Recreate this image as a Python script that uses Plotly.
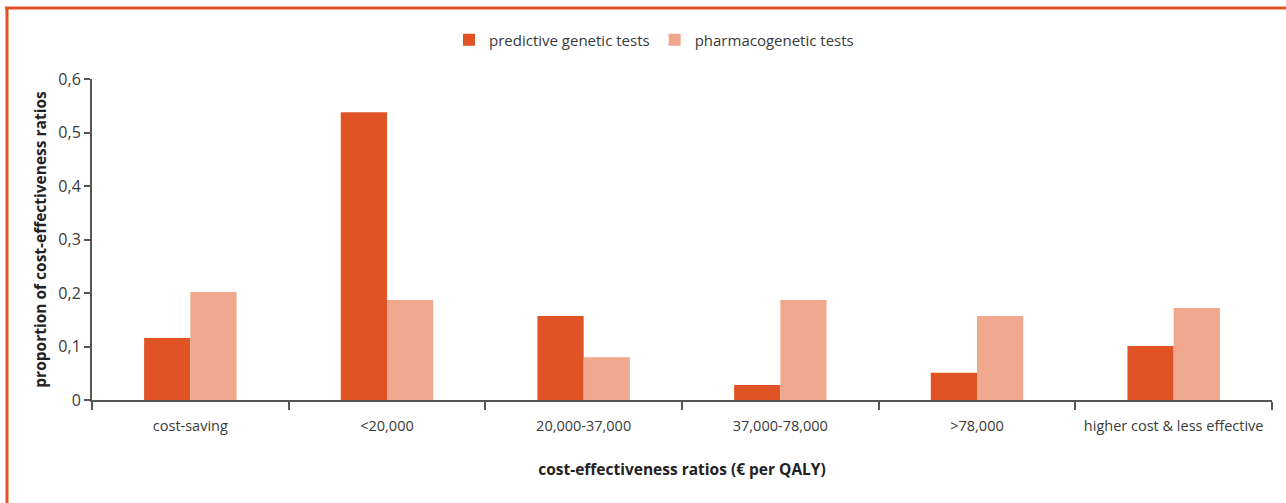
import plotly.graph_objects as go

categories = ["cost-saving", "<20,000", "20,000-37,000", "37,000-78,000", ">78,000", "higher cost & less effective"]
predictive = [0.116, 0.538, 0.157, 0.028, 0.051, 0.101]
pharmaco = [0.202, 0.187, 0.080, 0.187, 0.157, 0.172]
series_names = ["predictive genetic tests", "pharmacogenetic tests"]
y_ticks = [0, 0.1, 0.2, 0.3, 0.4, 0.5, 0.6]

W, H = 1286, 503
ML, MR, MT, MB = 92, 14, 79, 103
FONT = "Open Sans"
TXT = "#3a3a3a"
AX = "#555555"

fig = go.Figure()
fig.add_bar(x=categories, y=predictive, name=series_names[0], marker=dict(color="#E05325", line=dict(width=0)))
fig.add_bar(x=categories, y=pharmaco, name=series_names[1], marker=dict(color="#EFA78E", line=dict(width=0)))

pw = W - ML - MR
ph = H - MT - MB
def px(x):
    return (x - ML) / pw
def py(y):
    return (H - MB - y) / ph

border = "#E05325"
fig.add_shape(type="line", xref="paper", yref="paper", x0=px(5), x1=px(W + 5), y0=py(8), y1=py(8),
              line=dict(color=border, width=3))
fig.add_shape(type="line", xref="paper", yref="paper", x0=px(7), x1=px(7), y0=py(7), y1=py(H + 5),
              line=dict(color=border, width=3))

fig.update_layout(
    width=W, height=H,
    margin=dict(l=ML, r=MR, t=MT, b=MB),
    paper_bgcolor="white", plot_bgcolor="white",
    separators=", ",
    barmode="group", bargap=0.53, bargroupgap=0,
    font=dict(family=FONT, color=TXT, size=14),
    legend=dict(orientation="h", x=px(654), xanchor="center", y=py(40), yanchor="middle",
                font=dict(size=15, color=TXT), itemwidth=30, traceorder="normal"),
    xaxis=dict(showline=True, linecolor=AX, linewidth=2, ticks="outside", tickson="boundaries",
               ticklen=8, tickwidth=1.5, tickcolor=AX, showgrid=False, zeroline=False,
               tickfont=dict(size=14.5, color=TXT), ticklabelstandoff=12,
               title=dict(text="<b>cost-effectiveness ratios (€ per QALY)</b>", font=dict(size=15.5, color="#222"), standoff=30)),
    yaxis=dict(range=[0, 0.6], tickvals=y_ticks, showline=True, linecolor=AX, linewidth=2, ticks="outside",
               ticklen=6, tickwidth=1.5, tickcolor=AX, showgrid=False, zeroline=False,
               tickfont=dict(size=16, color=TXT),
               title=dict(text="<b>proportion of cost-effectiveness ratios</b>", font=dict(size=15.5, color="#222"), standoff=8)),
)

fig.write_html("out.html", post_script="document.body.style.margin='0';", config={"displayModeBar": False})
